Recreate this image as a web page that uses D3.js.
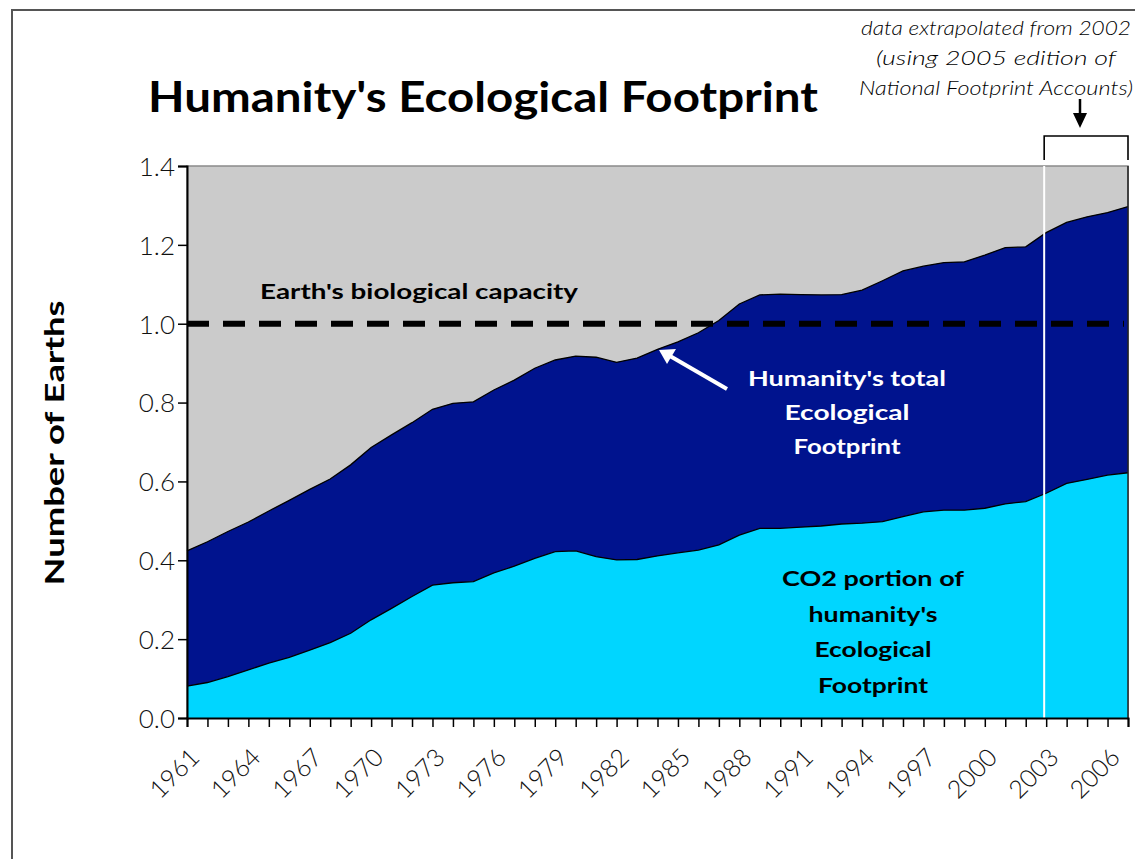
<!DOCTYPE html>
<html>

<head>
  <meta charset="utf-8">
  <style>
    body {
      margin: 0;
      background: #fff;
    }

    text {
      font-family: 'Lato', 'DejaVu Sans', sans-serif;
    }

    .tick-label {
      font-weight: 300;
      fill: #111;
    }

    .note {
      font-style: italic;
      font-weight: 300;
      font-size: 19px;
      fill: #000;
    }
  </style>
</head>

<body>
  <div id="chart"></div>

  <script src="https://cdn.jsdelivr.net/npm/d3@7"></script>
  <script>
    var width = 1135,
      height = 859;

    var years = [1961, 1962, 1963, 1964, 1965, 1966, 1967, 1968, 1969, 1970,
      1971, 1972, 1973, 1974, 1975, 1976, 1977, 1978, 1979, 1980,
      1981, 1982, 1983, 1984, 1985, 1986, 1987, 1988, 1989, 1990,
      1991, 1992, 1993, 1994, 1995, 1996, 1997, 1998, 1999, 2000,
      2001, 2002, 2003, 2004, 2005, 2006, 2007];

    // humanity's total footprint (number of earths)
    var totalFootprint = [0.424, 0.447, 0.473, 0.497, 0.525, 0.552, 0.580, 0.606, 0.642, 0.686,
      0.718, 0.749, 0.783, 0.798, 0.802, 0.832, 0.857, 0.887, 0.908, 0.918,
      0.915, 0.902, 0.913, 0.935, 0.954, 0.977, 1.008, 1.050, 1.073, 1.075,
      1.074, 1.073, 1.074, 1.085, 1.109, 1.134, 1.146, 1.155, 1.157, 1.174,
      1.193, 1.195, 1.231, 1.257, 1.271, 1.282, 1.297];

    // CO2 portion of the footprint
    var co2Footprint = [0.081, 0.090, 0.105, 0.122, 0.139, 0.154, 0.172, 0.191, 0.215, 0.249,
      0.278, 0.308, 0.337, 0.343, 0.346, 0.368, 0.385, 0.405, 0.422, 0.424,
      0.409, 0.401, 0.402, 0.411, 0.419, 0.426, 0.439, 0.464, 0.481, 0.481,
      0.484, 0.487, 0.492, 0.494, 0.498, 0.511, 0.523, 0.527, 0.527, 0.532,
      0.543, 0.549, 0.570, 0.595, 0.605, 0.616, 0.622];

    var yTicks = [0, 0.2, 0.4, 0.6, 0.8, 1.0, 1.2, 1.4];
    var xLabelYears = [1961, 1964, 1967, 1970, 1973, 1976, 1979, 1982, 1985, 1988,
      1991, 1994, 1997, 2000, 2003, 2006];
    var biocapacity = 1.0;
    var extrapolatedFrom = 2003;

    var colors = {
      plot: '#cbcbcb',
      total: '#00138e',
      co2: '#00d6ff'
    };

    var plot = { left: 187, right: 1128, top: 166, bottom: 718 };

    var x = d3.scaleLinear()
      .domain([years[0], years[years.length - 1]])
      .range([plot.left, plot.right]);

    var y = d3.scaleLinear()
      .domain([0, 1.4])
      .range([plot.bottom, plot.top]);

    var svg = d3.select('#chart').append('svg')
      .attr('width', width)
      .attr('height', height);

    // outer frame
    svg.append('path')
      .attr('d', 'M12,' + height + 'V10H' + width)
      .attr('fill', 'none')
      .attr('stroke', '#555')
      .attr('stroke-width', 2);

    // plot background
    svg.append('rect')
      .attr('x', plot.left)
      .attr('y', plot.top)
      .attr('width', plot.right - plot.left)
      .attr('height', plot.bottom - plot.top)
      .attr('fill', colors.plot)
      .attr('stroke', '#8a8a8a')
      .attr('stroke-width', 1.5);

    var rows = years.map(function(yr, i) {
      return { year: yr, total: totalFootprint[i], co2: co2Footprint[i] };
    });

    var area = function(key) {
      return d3.area()
        .x(function(d) { return x(d.year); })
        .y0(y(0))
        .y1(function(d) { return y(d[key]); });
    };
    var line = function(key) {
      return d3.line()
        .x(function(d) { return x(d.year); })
        .y(function(d) { return y(d[key]); });
    };

    svg.append('path').datum(rows)
      .attr('d', area('total'))
      .attr('fill', colors.total);
    svg.append('path').datum(rows)
      .attr('d', area('co2'))
      .attr('fill', colors.co2);

    svg.append('path').datum(rows)
      .attr('d', line('total'))
      .attr('fill', 'none')
      .attr('stroke', '#000')
      .attr('stroke-width', 1.3);
    svg.append('path').datum(rows)
      .attr('d', line('co2'))
      .attr('fill', 'none')
      .attr('stroke', '#000')
      .attr('stroke-width', 1.3);

    // extrapolation marker
    svg.append('line')
      .attr('x1', x(extrapolatedFrom) - 2).attr('x2', x(extrapolatedFrom) - 2)
      .attr('y1', plot.top).attr('y2', plot.bottom)
      .attr('stroke', '#fff')
      .attr('stroke-width', 2);

    // biocapacity line
    svg.append('line')
      .attr('x1', plot.left).attr('x2', plot.right - 4)
      .attr('y1', y(biocapacity)).attr('y2', y(biocapacity))
      .attr('stroke', '#000')
      .attr('stroke-width', 6)
      .attr('stroke-dasharray', '22,14');

    // right border of plot
    svg.append('line')
      .attr('x1', plot.right).attr('x2', plot.right)
      .attr('y1', plot.top).attr('y2', plot.bottom)
      .attr('stroke', '#222')
      .attr('stroke-width', 1.5);

    // axes
    var yAxis = d3.axisLeft(y)
      .tickValues(yTicks)
      .tickSize(9)
      .tickFormat(d3.format('.1f'));

    var gy = svg.append('g')
      .attr('transform', 'translate(' + plot.left + ',0)')
      .call(yAxis);
    gy.select('.domain').attr('stroke', '#000').attr('stroke-width', 2);
    gy.selectAll('.tick line').attr('stroke', '#000').attr('stroke-width', 1.5);
    gy.selectAll('.tick text')
      .attr('class', 'tick-label')
      .attr('x', -12)
      .attr('dy', '0.36em')
      .style('font-size', '26px')
      .attr('fill', '#111');

    var xAxis = d3.axisBottom(x)
      .tickValues(years)
      .tickSize(9)
      .tickFormat('');

    var gx = svg.append('g')
      .attr('transform', 'translate(0,' + plot.bottom + ')')
      .call(xAxis);
    gx.select('.domain').attr('stroke', '#000').attr('stroke-width', 2);
    gx.selectAll('.tick line').attr('stroke', '#000').attr('stroke-width', 1.5);

    svg.append('g').selectAll('text')
      .data(xLabelYears)
      .enter().append('text')
      .attr('class', 'tick-label')
      .attr('text-anchor', 'end')
      .style('font-size', '25px')
      .attr('textLength', 58)
      .attr('lengthAdjust', 'spacing')
      .attr('transform', function(d) {
        return 'translate(' + (x(d) + 14) + ',' + (plot.bottom + 41) + ') rotate(-45)';
      })
      .text(function(d) { return d; });

    // y axis title
    svg.append('text')
      .attr('transform', 'translate(64,443) rotate(-90)')
      .attr('text-anchor', 'middle')
      .style('font-size', '27px')
      .style('font-weight', 700)
      .attr('textLength', 285)
      .attr('lengthAdjust', 'spacingAndGlyphs')
      .text('Number of Earths');

    // chart title
    svg.append('text')
      .attr('x', 148)
      .attr('y', 112)
      .style('font-size', '42px')
      .style('font-weight', 700)
      .attr('textLength', 670)
      .attr('lengthAdjust', 'spacingAndGlyphs')
      .text("Humanity's Ecological Footprint");

    // notes
    var notes = [
      { t: 'data extrapolated from  2002', w: 270 },
      { t: '(using 2005 edition of', w: 240 },
      { t: 'National Footprint Accounts)', w: 274 }
    ];
    svg.append('g').selectAll('text')
      .data(notes)
      .enter().append('text')
      .attr('class', 'note')
      .attr('x', 996)
      .attr('y', function(d, i) { return 35 + i * 30; })
      .attr('text-anchor', 'middle')
      .attr('textLength', function(d) { return d.w; })
      .attr('lengthAdjust', 'spacingAndGlyphs')
      .text(function(d) { return d.t; });

    // bracket and arrow over the extrapolated years
    svg.append('path')
      .attr('d', 'M' + (x(extrapolatedFrom) - 2) + ',160V136H' + plot.right + 'V160')
      .attr('fill', 'none')
      .attr('stroke', '#000')
      .attr('stroke-width', 1.6);
    svg.append('line')
      .attr('x1', 1080).attr('x2', 1080)
      .attr('y1', 99).attr('y2', 116)
      .attr('stroke', '#000')
      .attr('stroke-width', 2.5);
    svg.append('path')
      .attr('d', 'M1073,113L1087,113L1080,128Z')
      .attr('fill', '#000');

    // in-chart labels
    svg.append('text')
      .attr('x', 419)
      .attr('y', 299)
      .attr('text-anchor', 'middle')
      .style('font-size', '21px')
      .style('font-weight', 700)
      .attr('textLength', 318)
      .attr('lengthAdjust', 'spacingAndGlyphs')
      .text("Earth's biological capacity");

    var totalLabel = [
      { t: "Humanity's total", w: 198 },
      { t: 'Ecological', w: 125 },
      { t: 'Footprint', w: 107 }
    ];
    svg.append('g').selectAll('text')
      .data(totalLabel)
      .enter().append('text')
      .attr('x', 847)
      .attr('y', function(d, i) { return 386 + i * 34; })
      .attr('text-anchor', 'middle')
      .attr('fill', '#fff')
      .style('font-size', '21px')
      .style('font-weight', 700)
      .attr('textLength', function(d) { return d.w; })
      .attr('lengthAdjust', 'spacingAndGlyphs')
      .text(function(d) { return d.t; });

    var co2Label = [
      { t: 'CO2 portion of', w: 182 },
      { t: "humanity's", w: 129 },
      { t: 'Ecological', w: 117 },
      { t: 'Footprint', w: 110 }
    ];
    svg.append('g').selectAll('text')
      .data(co2Label)
      .enter().append('text')
      .attr('x', 873)
      .attr('y', function(d, i) { return 586 + i * 35.5; })
      .attr('text-anchor', 'middle')
      .attr('fill', '#000')
      .style('font-size', '21px')
      .style('font-weight', 700)
      .attr('textLength', function(d) { return d.w; })
      .attr('lengthAdjust', 'spacingAndGlyphs')
      .text(function(d) { return d.t; });

    // white pointer to the total footprint curve
    svg.append('line')
      .attr('x1', 727).attr('y1', 389)
      .attr('x2', 670).attr('y2', 356)
      .attr('stroke', '#fff')
      .attr('stroke-width', 4);
    svg.append('path')
      .attr('d', 'M659,350L676,349L667,364Z')
      .attr('fill', '#fff');
  </script>

</body>

</html>
